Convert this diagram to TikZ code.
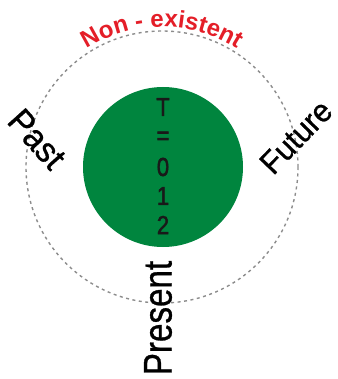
\documentclass[tikz,border=0pt]{standalone}
\usepackage{fontspec}
\setmainfont{Liberation Sans}
\newfontfamily\digitfont[FakeBold=2]{Liberation Sans}
\newfontfamily\wordfont[FakeBold=0.8]{Liberation Sans}
\usetikzlibrary{decorations.text,calc}
\definecolor{cgreen}{RGB}{0,133,62}
\definecolor{cred}{RGB}{228,30,40}
\definecolor{cgray}{RGB}{140,140,140}
\tikzset{
  bigword/.style={font=\wordfont\fontsize{32}{32}\selectfont, inner sep=0pt, text=black},
  digit/.style={font=\digitfont\fontsize{26}{26}\selectfont, inner sep=0pt, text=black!90},
}
\begin{document}
\begin{tikzpicture}[x=1pt,y=-1pt]
\useasboundingbox (0,0) rectangle (337,379);
\coordinate (c) at (162,167);
\draw[cgray, line width=1.4pt, dash pattern=on 3pt off 3.5pt] (c) circle[radius=136];
\fill[cgreen] (163,167) circle[radius=80];
\node[digit] (t1) at (163,107) {\scalebox{0.85}[1]{T}};
\node[digit] (t2) at (163,138) {\scalebox{0.85}[1]{=}};
\node[digit] (t3) at (163,167) {\scalebox{0.85}[1]{0}};
\node[digit] (t4) at (163,196) {\scalebox{0.85}[1]{1}};
\node[digit] (t5) at (163,225) {\scalebox{0.85}[1]{2}};
\node[bigword, rotate=-48, font=\wordfont\fontsize{35}{35}\selectfont] (past) at (37,139) {\scalebox{0.95}[1]{Past}};
\node[bigword, rotate=46] (future) at (296,137) {\scalebox{0.95}[1]{Future}};
\node[bigword, rotate=90, font=\wordfont\fontsize{40}{40}\selectfont] (present) at (158,318) {\scalebox{0.83}[1]{Present}};
\path[decorate, decoration={text along path, text align=center,
  text={|\fontsize{24}{24}\selectfont\bfseries\color{cred}|Non - existent}}]
  ($(c)+(-150:140)$) arc[start angle=-150, end angle=-30, radius=140];
\end{tikzpicture}
\end{document}
